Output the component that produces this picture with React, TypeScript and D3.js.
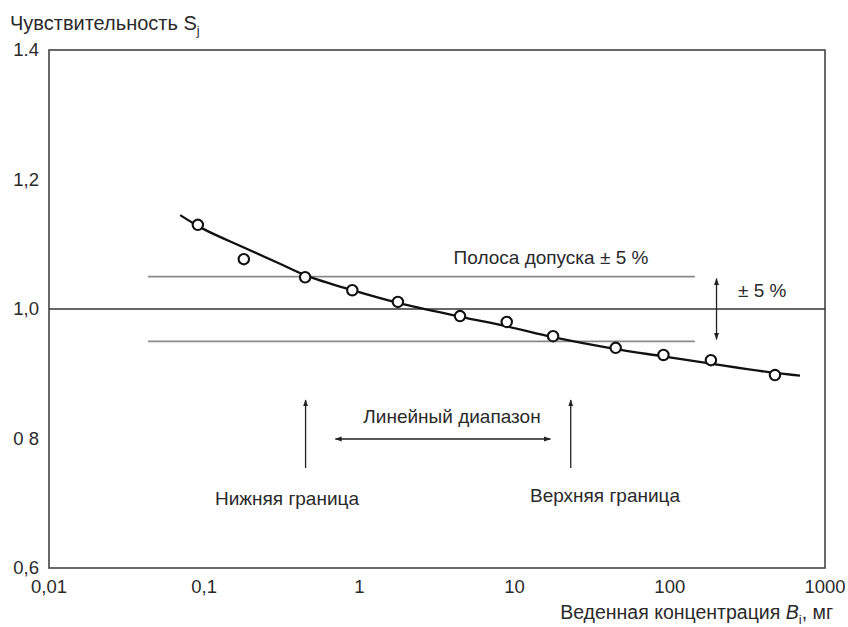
import React from "react";
import * as d3 from "d3";

// measured points (concentration, sensitivity)
const pointX = [0.091, 0.18, 0.447, 0.9, 1.77, 4.45, 8.9, 17.7, 44.8, 91, 184, 476];
const pointY = [1.13, 1.077, 1.049, 1.029, 1.011, 0.989, 0.98, 0.958, 0.94, 0.929, 0.921, 0.898];

// fitted curve
const curveX = [0.07, 0.1, 0.18, 0.3, 0.45, 0.9, 1.8, 4.5, 9, 18, 45, 90, 180, 450, 690];
const curveY = [1.145, 1.123, 1.095, 1.071, 1.052, 1.029, 1.009, 0.988, 0.973, 0.956, 0.938, 0.927, 0.916, 0.902, 0.897];

const xTicks = [0.01, 0.1, 1, 10, 100, 1000];
const xTickLabels = ["0,01", "0,1", "1", "10", "100", "1000"];
const yTicks = [1.4, 1.2, 1.0, 0.8, 0.6];
const yTickLabels = ["1.4", "1,2", "1,0", "0 8", "0,6"];

const bandLow = 0.95;
const bandHigh = 1.05;
const bandFrom = 0.0434;
const bandTo = 145;
const lowerLimit = 0.45;
const upperLimit = 23;
const rangeFrom = 0.7;
const rangeTo = 17;
const pmArrowX = 200;

const W = 848;
const H = 627;
const m = { left: 49, right: 23, top: 50, bottom: 59 };
const font = "Liberation Sans, Arial, sans-serif";

export default function App() {
  const x = d3.scaleLog().domain([0.01, 1000]).range([m.left, W - m.right]);
  const y = d3.scaleLinear().domain([0.6, 1.4]).range([H - m.bottom, m.top]);

  const line = d3
    .line<number>()
    .x((d) => x(curveX[d]))
    .y((d) => y(curveY[d]))
    .curve(d3.curveCatmullRom.alpha(0.5));

  const txt = "#2a2a2a";
  const fs = 19;

  return (
    <svg
      width={W}
      height={H}
      style={{ position: "absolute", left: 0, top: 0, background: "#fff" }}
      fontFamily={font}
    >
      <defs>
        <marker id="ah" viewBox="0 0 10 10" refX="9" refY="5" markerWidth="7" markerHeight="10" orient="auto-start-reverse" markerUnits="userSpaceOnUse">
          <path d="M0,1.5 L10,5 L0,8.5 z" fill="#222" />
        </marker>
      </defs>

      {/* frame */}
      <rect x={m.left} y={m.top} width={W - m.left - m.right} height={H - m.top - m.bottom} fill="none" stroke="#444" strokeWidth={1.6} />

      {/* tolerance band */}
      {[bandLow, bandHigh].map((v) => (
        <line key={v} x1={x(bandFrom)} x2={x(bandTo)} y1={y(v)} y2={y(v)} stroke="#8a8a8a" strokeWidth={1.6} />
      ))}
      <line x1={m.left} x2={W - m.right} y1={y(1)} y2={y(1)} stroke="#333" strokeWidth={1.4} />

      {/* axis labels */}
      {yTicks.map((t, i) => (
        <text key={t} x={39} y={y(t) + 6} textAnchor="end" fontSize={18.5} fill={txt}>
          {yTickLabels[i]}
        </text>
      ))}
      {xTicks.map((t, i) => (
        <text key={t} x={x(t)} y={593} textAnchor="middle" fontSize={18.5} fill={txt}>
          {xTickLabels[i]}
        </text>
      ))}

      <text x={10} y={30} fontSize={20} fill={txt}>
        Чувствительность S<tspan fontSize={13} dy={5}>j</tspan>
      </text>
      <text x={833} y={619} textAnchor="end" fontSize={19.5} fill={txt}>
        Веденная концентрация <tspan fontStyle="italic">B</tspan>
        <tspan fontSize={13} dy={5}>i</tspan>
        <tspan dy={-5}>, мг</tspan>
      </text>

      {/* fitted curve */}
      <path d={line(d3.range(curveX.length)) || ""} fill="none" stroke="#111" strokeWidth={2.3} />

      {/* points */}
      {pointX.map((px, i) => (
        <circle key={i} cx={x(px)} cy={y(pointY[i])} r={5.2} fill="#fff" stroke="#111" strokeWidth={2.1} />
      ))}

      {/* annotations */}
      <text x={551} y={264} textAnchor="middle" fontSize={fs} fill={txt}>
        Полоса допуска ± 5 %
      </text>
      <line x1={x(pmArrowX)} x2={x(pmArrowX)} y1={y(bandHigh) + 2} y2={y(bandLow) - 2} stroke="#222" strokeWidth={1.3} markerStart="url(#ah)" markerEnd="url(#ah)" />
      <text x={738} y={297} fontSize={fs} fill={txt}>
        ± 5 %
      </text>

      {[lowerLimit, upperLimit].map((v) => (
        <line key={v} x1={x(v)} x2={x(v)} y1={468} y2={400} stroke="#222" strokeWidth={1.3} markerEnd="url(#ah)" />
      ))}
      <line x1={x(rangeFrom)} x2={x(rangeTo)} y1={439} y2={439} stroke="#222" strokeWidth={1.3} markerStart="url(#ah)" markerEnd="url(#ah)" />
      <text x={452} y={423} textAnchor="middle" fontSize={fs} fill={txt}>
        Линейный диапазон
      </text>
      <text x={287} y={505} textAnchor="middle" fontSize={fs} fill={txt}>
        Нижняя граница
      </text>
      <text x={605} y={502} textAnchor="middle" fontSize={fs} fill={txt}>
        Верхняя граница
      </text>
    </svg>
  );
}
